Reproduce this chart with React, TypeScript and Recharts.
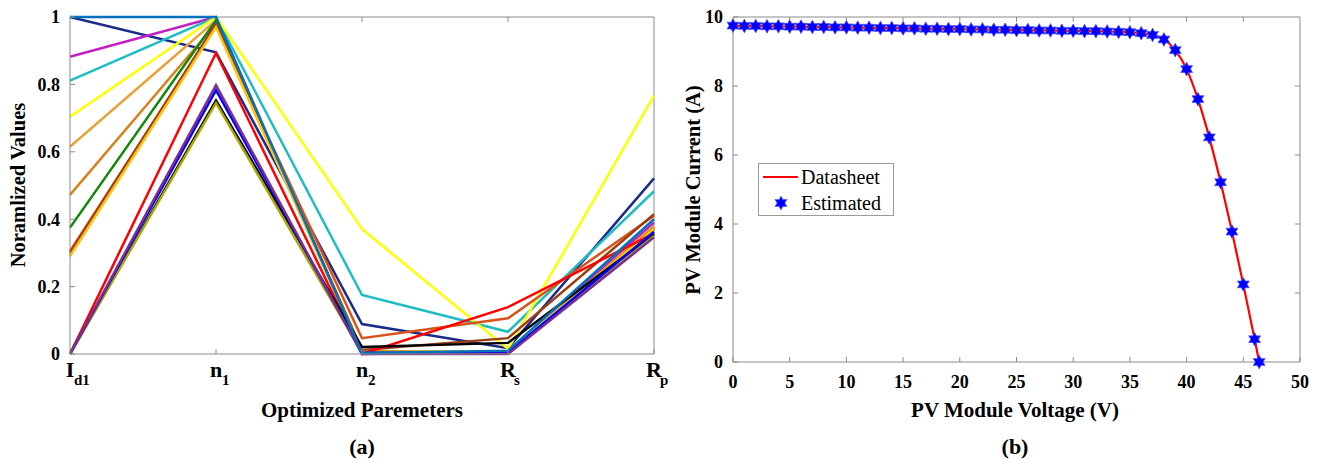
import React from 'react';
import { LineChart, Line, XAxis, YAxis, ReferenceLine } from 'recharts';

// (a) normalized optimized parameters, one array per run: [Id1, n1, n2, Rs, Rp]
const params = ['Id1', 'n1', 'n2', 'Rs', 'Rp'];
const paramLabels: Record<string, [string, string]> = {
    Id1: ['I', 'd1'],
    n1: ['n', '1'],
    n2: ['n', '2'],
    Rs: ['R', 's'],
    Rp: ['R', 'p'],
};
const normTicks = [0, 0.2, 0.4, 0.6, 0.8, 1];

const runNavy = [1.0, 0.895, 0.089, 0.017, 0.521];
const runMagenta = [0.882, 1.0, 0.0, 0.006, 0.39];
const runCyan = [0.811, 1.0, 0.175, 0.066, 0.483];
const runYellow = [0.704, 1.0, 0.371, 0.015, 0.767];
const runLightOrange = [0.615, 0.99, 0.01, 0.004, 0.38];
const runDarkOrange = [0.472, 0.98, 0.006, 0.006, 0.375];
const runGreen = [0.375, 0.99, 0.006, 0.006, 0.37];
const runSienna = [0.305, 0.975, 0.047, 0.106, 0.41];
const runBrown = [0.3, 0.98, 0.012, 0.047, 0.415];
const runGold = [0.29, 0.97, 0.006, 0.006, 0.372];
const runRed = [0.0, 0.893, 0.0, 0.139, 0.358];
const runBlack = [0.0, 0.752, 0.021, 0.033, 0.355];
const runOlive = [0.0, 0.745, 0.004, 0.004, 0.35];
const runBlue2 = [0.0, 0.783, 0.004, 0.004, 0.362];
const runPurple = [0.0, 0.798, 0.0, 0.0, 0.346];
const runBlue = [1.0, 1.0, 0.002, 0.01, 0.4];

const runs = [
    { key: 'navy', color: '#1c2a8a', values: runNavy },
    { key: 'magenta', color: '#c41fc4', values: runMagenta },
    { key: 'cyan', color: '#1fbcc4', values: runCyan },
    { key: 'yellow', color: '#ffff00', values: runYellow },
    { key: 'lightOrange', color: '#e8a23a', values: runLightOrange },
    { key: 'darkOrange', color: '#d9821c', values: runDarkOrange },
    { key: 'green', color: '#0b8a0b', values: runGreen },
    { key: 'sienna', color: '#d95319', values: runSienna },
    { key: 'brown', color: '#9c3d12', values: runBrown },
    { key: 'gold', color: '#ffc20e', values: runGold },
    { key: 'red', color: '#ff0000', values: runRed },
    { key: 'black', color: '#000000', values: runBlack },
    { key: 'olive', color: '#a8a800', values: runOlive },
    { key: 'blue2', color: '#0000ff', values: runBlue2 },
    { key: 'purple', color: '#7e2f8e', values: runPurple },
    { key: 'blue', color: '#0072bd', values: runBlue },
];

const normRows = params.map((p, i) => {
    const row: Record<string, number | string> = { param: p };
    runs.forEach(r => { row[r.key] = r.values[i]; });
    return row;
});

// (b) I-V curve
const voltage = [0, 1, 2, 3, 4, 5, 6, 7, 8, 9, 10, 11, 12, 13, 14, 15, 16, 17, 18, 19, 20, 21, 22, 23, 24, 25, 26, 27, 28, 29, 30, 31, 32, 33, 34, 35, 36, 37, 38, 39, 40, 41, 42, 43, 44, 45, 46, 46.4];
const datasheetCurrent = [9.75, 9.74, 9.74, 9.73, 9.73, 9.72, 9.72, 9.71, 9.71, 9.7, 9.7, 9.69, 9.69, 9.68, 9.68, 9.67, 9.67, 9.66, 9.66, 9.65, 9.65, 9.64, 9.64, 9.63, 9.63, 9.62, 9.62, 9.61, 9.61, 9.6, 9.6, 9.59, 9.59, 9.58, 9.57, 9.56, 9.53, 9.48, 9.35, 9.04, 8.49, 7.62, 6.51, 5.21, 3.78, 2.25, 0.66, 0.0];
const estimatedCurrent = [9.75, 9.74, 9.74, 9.73, 9.73, 9.72, 9.72, 9.71, 9.71, 9.7, 9.7, 9.69, 9.69, 9.68, 9.68, 9.67, 9.67, 9.66, 9.66, 9.65, 9.65, 9.64, 9.64, 9.63, 9.63, 9.62, 9.62, 9.61, 9.61, 9.6, 9.6, 9.59, 9.59, 9.58, 9.57, 9.56, 9.53, 9.48, 9.35, 9.04, 8.49, 7.62, 6.51, 5.21, 3.78, 2.25, 0.66, 0.0];
const voltageTicks = [0, 5, 10, 15, 20, 25, 30, 35, 40, 45, 50];
const currentTicks = [0, 2, 4, 6, 8, 10];

const ivRows = voltage.map((v, i) => ({ v, datasheet: datasheetCurrent[i], estimated: estimatedCurrent[i] }));

const SERIF = '"Liberation Serif", "Times New Roman", serif';
const AXIS_GRAY = '#8a8a8a';
const tickFont = { fill: '#000', fontSize: 18, fontWeight: 700, fontFamily: SERIF };

const ParamTick = (props: any) => {
    const { x, y, payload } = props;
    const [main, sub] = paramLabels[payload.value];
    const shift = main === 'I' ? 4 : 6;
    return (
        <g fontFamily={SERIF} fontWeight={700} fill="#000">
            <text x={x} y={y + 16} textAnchor="middle" fontSize={22}>{main}</text>
            <text x={x + shift} y={y + 24} textAnchor="start" fontSize={15}>{sub}</text>
        </g>
    );
};

const Hexagram = (props: any) => {
    const { cx, cy } = props;
    if (cx == null || cy == null) return null;
    const pts: string[] = [];
    for (let k = 0; k < 12; k++) {
        const r = k % 2 === 0 ? 6.8 : 3.8;
        const a = (Math.PI / 6) * k - Math.PI / 2;
        pts.push(`${cx + r * Math.cos(a)},${cy + r * Math.sin(a)}`);
    }
    return <polygon points={pts.join(' ')} fill="#0000ff" stroke="#4a4aff" strokeWidth={0.8} />;
};

const frame = { stroke: AXIS_GRAY, strokeWidth: 1, ifOverflow: 'visible' as const };

const App: React.FC = () => {
    return (
        <div style={{ position: 'absolute', left: 0, top: 0, width: 1322, height: 460, background: '#fff', fontFamily: SERIF }}>
            {/* (a) */}
            <div style={{ position: 'absolute', left: 0, top: 0 }}>
                <LineChart width={690} height={460} data={normRows} margin={{ top: 17, right: 36, left: 0, bottom: 0 }}>
                    <XAxis dataKey="param" height={106} tick={<ParamTick />} tickSize={-5} tickMargin={12}
                        stroke={AXIS_GRAY} tickLine={{ stroke: AXIS_GRAY }} interval={0} />
                    <YAxis domain={[0, 1]} ticks={normTicks} width={70} tick={tickFont} tickSize={-5} tickMargin={15}
                        tickFormatter={(t: number) => String(t)} stroke={AXIS_GRAY} tickLine={{ stroke: AXIS_GRAY }} />
                    <ReferenceLine y={1} {...frame} />
                    <ReferenceLine x="Rp" {...frame} />
                    {params.slice(1, 4).map(p => (
                        <ReferenceLine key={'t' + p} segment={[{ x: p, y: 1 }, { x: p, y: 0.985 }]} {...frame} />
                    ))}
                    {normTicks.slice(1, 5).map(t => (
                        <ReferenceLine key={'r' + t} segment={[{ x: 'Rp', y: t }, { x: 'Rp', y: t }]} {...frame} />
                    ))}
                    {runs.map(r => (
                        <Line key={r.key} dataKey={r.key} stroke={r.color} strokeWidth={2.5} dot={false}
                            type="linear" isAnimationActive={false} />
                    ))}
                </LineChart>
            </div>
            <div style={{ position: 'absolute', left: 18, top: 185, transform: 'translate(-50%, -50%) rotate(-90deg)', whiteSpace: 'nowrap', fontSize: 20.5, fontWeight: 700 }}>
                Noramlized Values
            </div>
            <div style={{ position: 'absolute', left: 362, top: 410, transform: 'translate(-50%, -50%)', whiteSpace: 'nowrap', fontSize: 21, fontWeight: 700 }}>
                Optimized Paremeters
            </div>
            <div style={{ position: 'absolute', left: 362, top: 447, transform: 'translate(-50%, -50%)', fontSize: 22, fontWeight: 700 }}>
                (a)
            </div>

            {/* (b) */}
            <div style={{ position: 'absolute', left: 660, top: 0 }}>
                <LineChart width={662} height={460} data={ivRows} margin={{ top: 17, right: 22, left: 0, bottom: 0 }}>
                    <XAxis dataKey="v" type="number" domain={[0, 50]} ticks={voltageTicks} height={98} tick={tickFont}
                        tickSize={-5} tickMargin={18} stroke={AXIS_GRAY} tickLine={{ stroke: AXIS_GRAY }} />
                    <YAxis domain={[0, 10]} ticks={currentTicks} width={73} tick={tickFont} tickSize={-5} tickMargin={15}
                        stroke={AXIS_GRAY} tickLine={{ stroke: AXIS_GRAY }} />
                    <ReferenceLine y={10} {...frame} />
                    <ReferenceLine x={50} {...frame} />
                    {voltageTicks.slice(1, 10).map(t => (
                        <ReferenceLine key={'t' + t} segment={[{ x: t, y: 10 }, { x: t, y: 9.86 }]} {...frame} />
                    ))}
                    {currentTicks.slice(1, 5).map(t => (
                        <ReferenceLine key={'r' + t} segment={[{ x: 50, y: t }, { x: 49.56, y: t }]} {...frame} />
                    ))}
                    <Line dataKey="datasheet" stroke="#ff0000" strokeWidth={2.2} dot={false} type="monotone" isAnimationActive={false} />
                    <Line dataKey="estimated" stroke="none" dot={<Hexagram />} type="linear" isAnimationActive={false} />
                </LineChart>
            </div>
            <div style={{ position: 'absolute', left: 693, top: 190, transform: 'translate(-50%, -50%) rotate(-90deg)', whiteSpace: 'nowrap', fontSize: 20.5, fontWeight: 700 }}>
                PV Module Current (A)
            </div>
            <div style={{ position: 'absolute', left: 1015, top: 410, transform: 'translate(-50%, -50%)', whiteSpace: 'nowrap', fontSize: 21, fontWeight: 700 }}>
                PV Module Voltage (V)
            </div>
            <div style={{ position: 'absolute', left: 1015, top: 447, transform: 'translate(-50%, -50%)', fontSize: 22, fontWeight: 700 }}>
                (b)
            </div>

            {/* legend */}
            <div style={{ position: 'absolute', left: 758, top: 163, width: 134, height: 51, border: '1px solid #9a9a9a', background: '#fff' }}>
                <svg width={134} height={51} style={{ position: 'absolute', left: 0, top: 0 }}>
                    <line x1={4} x2={39} y1={13} y2={13} stroke="#ff0000" strokeWidth={2.2} />
                    <Hexagram cx={22} cy={39} />
                    <text x={42} y={20} fontSize={20} fontFamily={SERIF} fill="#000">Datasheet</text>
                    <text x={42} y={46} fontSize={20} fontFamily={SERIF} fill="#000">Estimated</text>
                </svg>
            </div>
        </div>
    );
};

export default App;
